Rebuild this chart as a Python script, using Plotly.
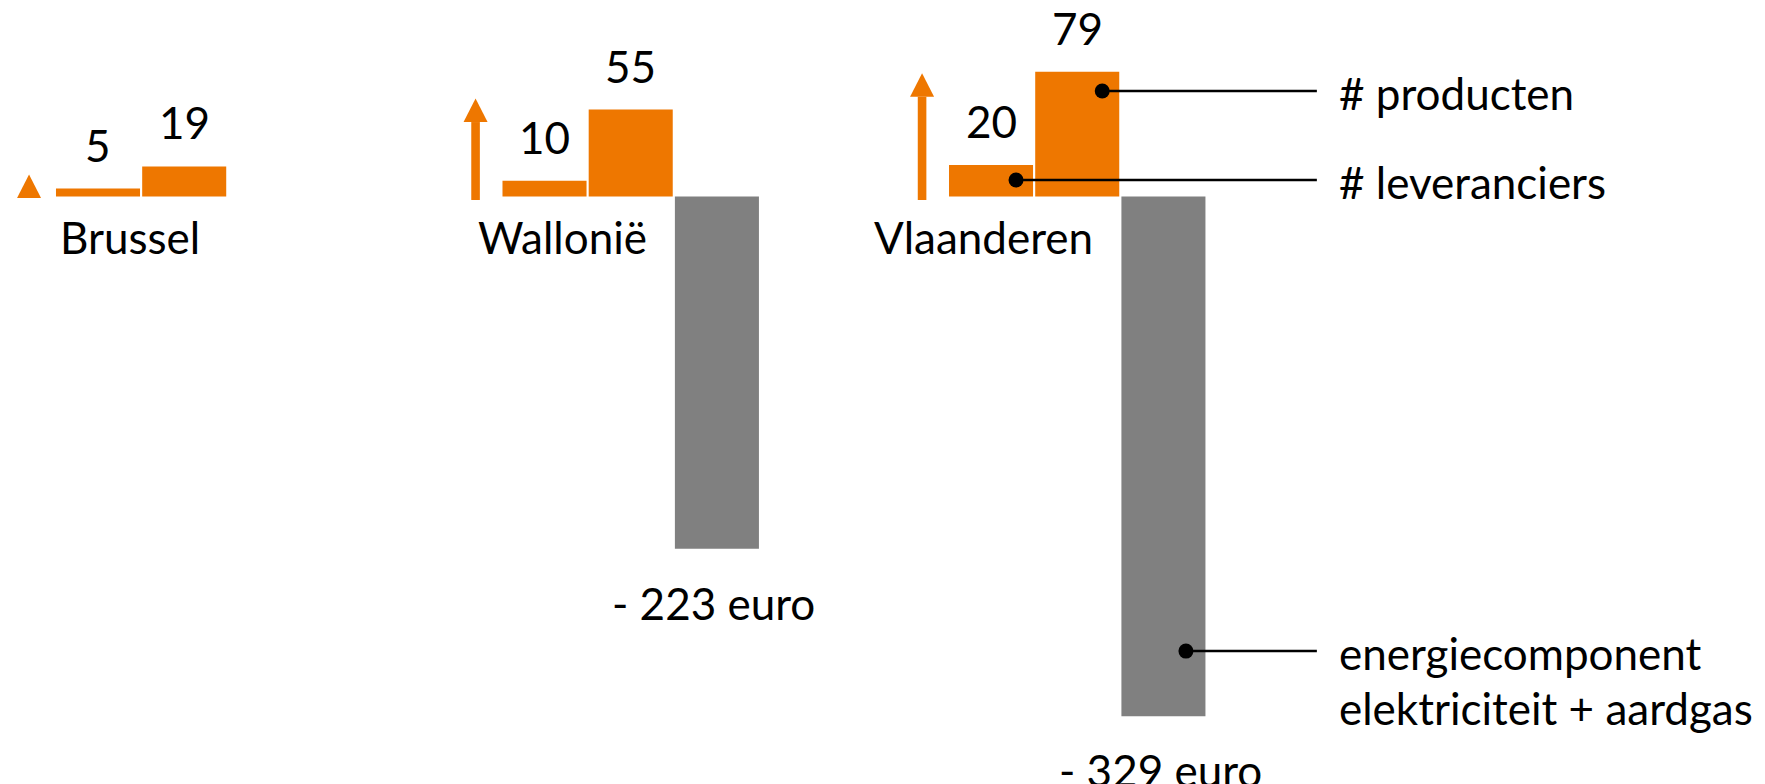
import plotly.graph_objects as go

# data
regions = ["Brussel", "Wallonië", "Vlaanderen"]
leveranciers = [5, 10, 20]          # # leveranciers
producten = [19, 55, 79]            # # producten
energie = [None, -223, -329]        # energiecomponent elektriciteit + aardgas (euro)
arrow_tip = [14, 62, 78]            # height of the orange growth arrows

ORANGE = "#EE7700"
GREY = "#808080"
FONT = "Lato"
FS = 44

# layout helpers (x in bar slots, y in value units)
group_gap = 5.18
base = [i * group_gap for i in range(len(regions))]
x_lev = [b for b in base]
x_prod = [b + 1 for b in base]
x_grey = [b + 2 for b in base]
bar_w = 0.975
px_x = 86.2      # pixels per slot
px_y = 1.58      # pixels per unit
W, H = 1765, 784
OFF = 8          # page body margin

fig = go.Figure()
fig.add_trace(go.Bar(x=x_lev, y=leveranciers, width=bar_w, marker_color=ORANGE,
                     marker_line_width=0, name="# leveranciers"))
fig.add_trace(go.Bar(x=x_prod, y=producten, width=bar_w, marker_color=ORANGE,
                     marker_line_width=0, name="# producten"))
fig.add_trace(go.Bar(x=x_grey, y=energie, width=bar_w, marker_color=GREY,
                     marker_line_width=0, name="energiecomponent"))

ann = []
shapes = []
for i, reg in enumerate(regions):
    # value labels above orange bars
    for xv, yv in ((x_lev[i], leveranciers[i]), (x_prod[i], producten[i])):
        ann.append(dict(x=xv, y=yv, text=str(yv), showarrow=False, yanchor="middle",
                        yshift=44, font=dict(size=FS, color="black", family=FONT)))
    # region name under the orange bars
    ann.append(dict(x=x_prod[i] + bar_w / 2, y=0, text=reg, showarrow=False,
                    xanchor="right", yanchor="middle", xshift=-24, yshift=-40,
                    font=dict(size=FS, color="black", family=FONT)))
    # grey euro label
    if energie[i] is not None:
        ann.append(dict(x=x_grey[i], y=energie[i], text=f"- {abs(energie[i])} euro",
                        showarrow=False, yanchor="middle", xshift=-3, yshift=-54,
                        font=dict(size=FS, color="black", family=FONT)))
    # orange arrow
    ax = x_lev[i] - 0.8
    head_len = 23.5 / px_y
    head_hw = 12 / px_x
    shaft_hw = 4.3 / px_x
    tip = arrow_tip[i]
    hb = tip - head_len
    bottom = -2.2
    if hb - bottom > 2:
        shapes.append(dict(type="rect", xref="x", yref="y", x0=ax - shaft_hw, x1=ax + shaft_hw,
                           y0=bottom, y1=hb, fillcolor=ORANGE, line_width=0))
    shapes.append(dict(type="path", xref="x", yref="y",
                       path=f"M {ax - head_hw} {hb} L {ax + head_hw} {hb} L {ax} {tip} Z",
                       fillcolor=ORANGE, line_width=0))

# callouts on Vlaanderen
v = 2
dot_dx = 0.29
line_end = base[v] + 3.78
text_x = base[v] + 4.01
callouts = [
    (x_prod[v] + dot_dx, producten[v] * 0.845, ["# producten"]),
    (x_lev[v] + dot_dx, leveranciers[v] * 0.52, ["# leveranciers"]),
    (x_grey[v] + dot_dx * 0.9, energie[v] * 0.8745, ["energiecomponent", "elektriciteit + aardgas"]),
]
r_x = 7.5 / px_x
r_y = 7.5 / px_y
for cx, cy, lines in callouts:
    shapes.append(dict(type="line", xref="x", yref="y", x0=cx, x1=line_end, y0=cy, y1=cy,
                       line=dict(color="black", width=2.5)))
    shapes.append(dict(type="circle", xref="x", yref="y", x0=cx - r_x, x1=cx + r_x,
                       y0=cy - r_y, y1=cy + r_y, fillcolor="black", line_width=0))
    for k, t in enumerate(lines):
        ann.append(dict(x=text_x, y=cy, text=t, showarrow=False, xanchor="left",
                        yanchor="middle", yshift=-2 - 55 * k,
                        font=dict(size=FS, color="black", family=FONT)))

zero_px = 196.5 - OFF
x0_px = 98 - OFF
y_top = zero_px / px_y
y_bot = -(H - zero_px) / px_y
x_left = -x0_px / px_x
x_right = (W - x0_px) / px_x

fig.update_layout(
    width=W, height=H,
    margin=dict(l=0, r=0, t=0, b=0, pad=0, autoexpand=False),
    paper_bgcolor="white", plot_bgcolor="white",
    showlegend=False, barmode="overlay",
    xaxis=dict(range=[x_left, x_right], visible=False, fixedrange=True),
    yaxis=dict(range=[y_bot, y_top], visible=False, fixedrange=True),
    annotations=ann, shapes=shapes,
)

fig.write_html("out.html")
